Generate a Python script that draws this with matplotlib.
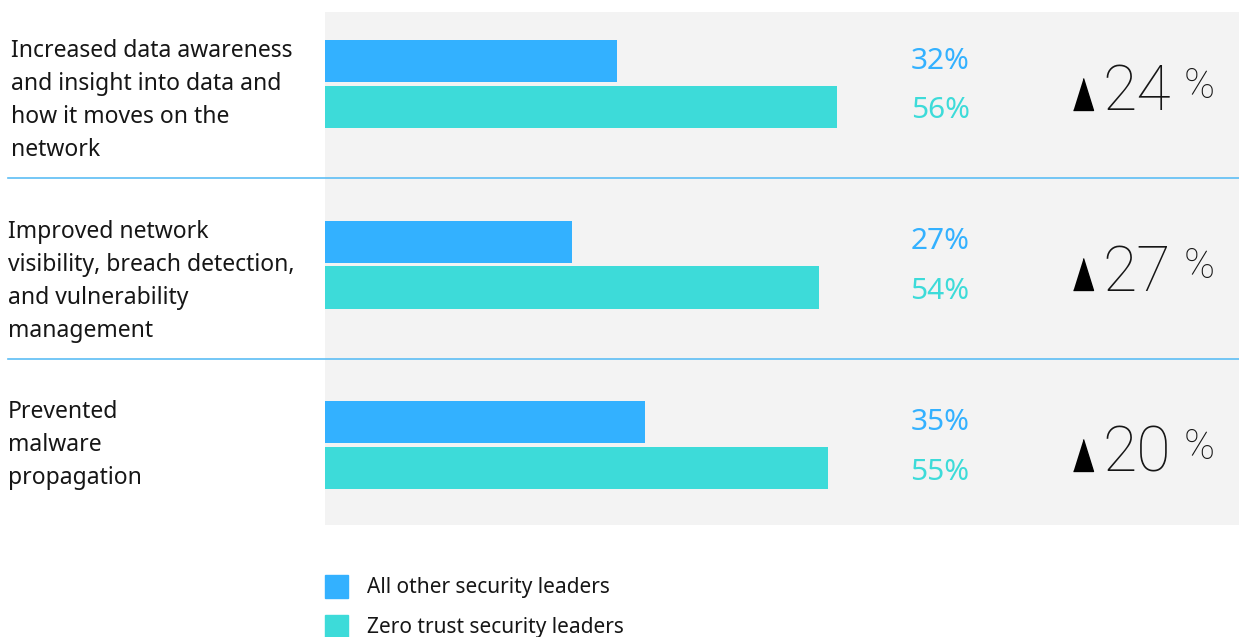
import numpy as np
import matplotlib.pyplot as plt
from matplotlib.patches import Rectangle

categories = [
    "Increased data awareness\nand insight into data and\nhow it moves on the\nnetwork",
    "Improved network\nvisibility, breach detection,\nand vulnerability\nmanagement",
    "Prevented\nmalware\npropagation",
]
all_other = [32, 27, 35]
zero_trust = [56, 54, 55]
series_names = ["All other security leaders", "Zero trust security leaders"]

blue = "#33b1ff"
teal = "#3ddbd9"
panel = "#f3f3f3"
line_col = "#5cbdf5"
txt = "#161616"
thin = ["Roboto", "DejaVu Sans"]

plt.rcParams["font.family"] = ["Noto Sans", "DejaVu Sans"]

fig = plt.figure(figsize=(12.39, 6.37), dpi=100)
ax = fig.add_axes([325 / 1239, 1 - 525 / 637, 914 / 1239, 513 / 637])
ax.set_facecolor(panel)
for s in ax.spines.values():
    s.set_visible(False)
ax.set_xticks([])
ax.set_yticks([])
ax.set_xlim(0, 100)
ax.set_ylim(2.443, -0.399)

y = np.arange(len(categories))
off = 0.1274
h = 0.233
ax.barh(y - off, all_other, height=h, color=blue, zorder=2)
ax.barh(y + off, zero_trust, height=h, color=teal, zorder=2)

for i in range(len(categories)):
    ax.text(67.3, i - off + 0.002, f"{all_other[i]}%", color=blue, fontsize=21.5,
            ha="center", va="center")
    ax.text(67.3, i + off + 0.022, f"{zero_trust[i]}%", color=teal, fontsize=21.5,
            ha="center", va="center")
    diff = zero_trust[i] - all_other[i]
    ax.plot(82.9, i + 0.055, marker=[(-0.625, -1), (0.625, -1), (0, 1)],
            markersize=23, color="black", linestyle="none")
    ax.text(85.0, i + 0.145, f"{diff}", fontsize=45, fontweight="light",
            family=thin, color=txt, ha="left", va="baseline")
    ax.text(93.9, i + 0.075, "%", fontsize=30, fontweight="light",
            family=thin, color=txt, ha="left", va="baseline")
    # category label, top aligned with the first bar
    ax.text(-34.7 + (0.3 if i == 0 else 0), i - off - h / 2 - 0.005, categories[i],
            fontsize=16.5, color=txt, ha="left", va="top", linespacing=1.5,
            clip_on=False)

for i in range(len(categories) - 1):
    ax.axhline(i + 0.521, xmin=-0.347, xmax=1, color=line_col, lw=1.2,
               clip_on=False, zorder=3)

# legend
for k, (name, col) in enumerate(zip(series_names, [blue, teal])):
    ytop = 575 + k * 40
    fig.patches.append(Rectangle((325 / 1239, 1 - (ytop + 23) / 637), 23 / 1239, 23 / 637,
                                 transform=fig.transFigure, color=col))
    fig.text(367 / 1239, 1 - (ytop + 13) / 637, name, fontsize=15, color=txt,
             ha="left", va="center")

fig.savefig("out.png", dpi=100, facecolor="white")
